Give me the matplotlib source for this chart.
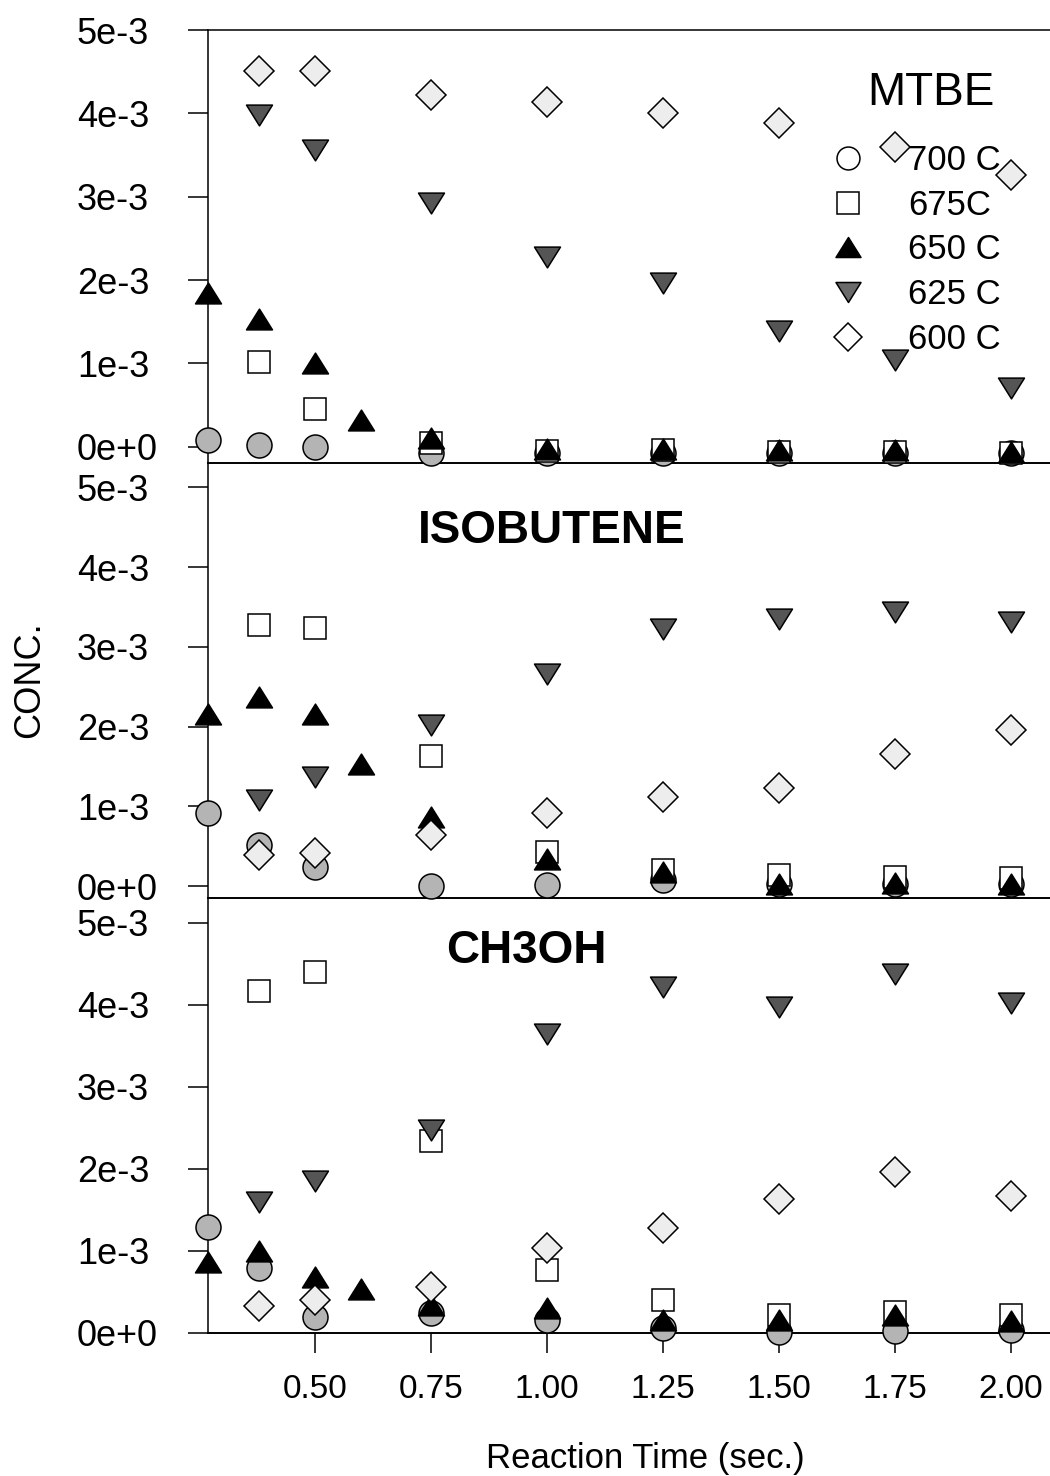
import numpy as np
import matplotlib
matplotlib.use("Agg")
import matplotlib.pyplot as plt
from matplotlib.path import Path
from matplotlib.lines import Line2D

plt.rcParams['font.family'] = ['Liberation Sans', 'DejaVu Sans']

# ---- data (concentrations in units of 1e-3) ----
temp_labels = ['700 C', '675C', '650 C', '625 C', '600 C']

t_700 = [0.27, 0.38, 0.50, 0.75, 1.00, 1.25, 1.50, 1.75, 2.00]
t_675 = [0.38, 0.50, 0.75, 1.00, 1.25, 1.50, 1.75, 2.00]
t_650 = [0.27, 0.38, 0.50, 0.60, 0.75, 1.00, 1.25, 1.50, 1.75, 2.00]
t_625 = [0.38, 0.50, 0.75, 1.00, 1.25, 1.50, 1.75, 2.00]
t_600 = [0.38, 0.50, 0.75, 1.00, 1.25, 1.50, 1.75, 2.00]

mtbe_700 = [0.08, 0.02, 0.00, -0.08, -0.08, -0.08, -0.08, -0.08, -0.08]
mtbe_675 = [1.02, 0.45, 0.04, -0.05, -0.04, -0.06, -0.06, -0.08]
mtbe_650 = [1.84, 1.53, 1.01, 0.32, 0.10, -0.03, -0.03, -0.04, -0.04, -0.06]
mtbe_625 = [3.98, 3.56, 2.92, 2.28, 1.97, 1.39, 1.04, 0.70]
mtbe_600 = [4.51, 4.51, 4.22, 4.14, 4.01, 3.89, 3.60, 3.26]

iso_700 = [0.92, 0.51, 0.24, 0.00, 0.01, 0.08, 0.03, 0.02, 0.02]
iso_675 = [3.27, 3.24, 1.63, 0.43, 0.20, 0.14, 0.11, 0.10]
iso_650 = [2.16, 2.37, 2.16, 1.53, 0.87, 0.34, 0.17, 0.03, 0.04, 0.03]
iso_625 = [1.08, 1.37, 2.02, 2.66, 3.22, 3.35, 3.44, 3.31]
iso_600 = [0.39, 0.41, 0.64, 0.92, 1.12, 1.23, 1.66, 1.96]

meoh_700 = [1.29, 0.79, 0.20, 0.24, 0.16, 0.06, 0.01, 0.02, 0.04]
meoh_675 = [4.17, 4.40, 2.34, 0.77, 0.40, 0.22, 0.26, 0.22]
meoh_650 = [0.86, 1.00, 0.68, 0.54, 0.34, 0.30, 0.16, 0.16, 0.22, 0.15]
meoh_625 = [1.60, 1.85, 2.47, 3.64, 4.21, 3.97, 4.37, 4.02]
meoh_600 = [0.33, 0.40, 0.56, 1.03, 1.28, 1.63, 1.96, 1.67]

species = ['MTBE', 'ISOBUTENE', 'CH3OH']
x_ticks = [0.50, 0.75, 1.00, 1.25, 1.50, 1.75, 2.00]
x_tick_labels = ['0.50', '0.75', '1.00', '1.25', '1.50', '1.75', '2.00']
y_ticks = [0, 1, 2, 3, 4, 5]
y_tick_labels = ['0e+0', '1e-3', '2e-3', '3e-3', '4e-3', '5e-3']

# ---- marker shapes ----
tri_up = Path([(-1, -0.8), (1, -0.8), (0, 0.8), (-1, -0.8)],
              [Path.MOVETO, Path.LINETO, Path.LINETO, Path.CLOSEPOLY])
tri_dn = Path([(-1, 0.8), (1, 0.8), (0, -0.8), (-1, 0.8)],
              [Path.MOVETO, Path.LINETO, Path.LINETO, Path.CLOSEPOLY])

styles = [
    dict(marker='o', ms=18.0, mfc='#b4b4b4'),
    dict(marker='s', ms=16.5, mfc='white'),
    dict(marker=tri_up, ms=18.7, mfc='black'),
    dict(marker=tri_dn, ms=18.7, mfc='#555555'),
    dict(marker='D', ms=15.5, mfc='#ededed'),
]
legend_styles = [
    dict(marker='o', ms=16.5, mfc='white'),
    dict(marker='s', ms=16.0, mfc='white'),
    dict(marker=tri_up, ms=18.0, mfc='black'),
    dict(marker=tri_dn, ms=18.0, mfc='#6a6a6a'),
    dict(marker='D', ms=14.3, mfc='white'),
]

times = [t_700, t_675, t_650, t_625, t_600]
panels = [
    [mtbe_700, mtbe_675, mtbe_650, mtbe_625, mtbe_600],
    [iso_700, iso_675, iso_650, iso_625, iso_600],
    [meoh_700, meoh_675, meoh_650, meoh_625, meoh_600],
]

W, H = 1050, 1476
fig = plt.figure(figsize=(W / 100, H / 100), dpi=100)

left_px = 208
panel_px = [(30, 463), (463, 898), (898, 1333)]
ylims = [(-0.195, 5.0), (-0.15, 5.307), (0.0, 5.30)]
title_pos = [(0.859, 0.827, 'normal'), (0.4086, 0.816, 'bold'), (0.3777, 0.8506, 'bold')]

axes = []
for i, (top, bot) in enumerate(panel_px):
    ax = fig.add_axes([left_px / W, 1 - bot / H, 1 - left_px / W, (bot - top) / H])
    axes.append(ax)
    for t, y, st in zip(times, panels[i], styles):
        ax.plot(t, y, ls='none', mec='black', mew=1.1, clip_on=False, zorder=3, **st)
    ax.set_xlim(0.27, 2.085)
    ax.set_ylim(*ylims[i])
    ax.set_yticks(y_ticks)
    ax.set_yticklabels(y_tick_labels)
    ax.tick_params(axis='y', direction='out', length=14.5, width=1.1,
                   labelsize=26, pad=80)
    for lbl in ax.get_yticklabels():
        lbl.set_horizontalalignment('left')
    ax.spines['right'].set_visible(False)
    ax.spines['top'].set_visible(i == 0)
    for s in ('left', 'top'):
        ax.spines[s].set_linewidth(1.1)
    ax.spines['bottom'].set_linewidth(1.4)
    ax.set_facecolor('none')
    tx, ty, tw = title_pos[i]
    ax.text(tx, ty, species[i], transform=ax.transAxes, ha='center',
            va='baseline', fontsize=33, fontweight=tw)
    if i < 2:
        ax.tick_params(axis='x', bottom=False, labelbottom=False)
    else:
        ax.set_xticks(x_ticks)
        ax.set_xticklabels(x_tick_labels)
        ax.tick_params(axis='x', direction='out', length=14.5, width=1.1,
                       labelsize=24, pad=15)

handles = [Line2D([], [], ls='none', mec='black', mew=1.1, **st) for st in legend_styles]
axes[0].legend(handles, temp_labels, loc='center left', bbox_to_anchor=(0.7394, 0.492),
               frameon=False, borderpad=0, borderaxespad=0, handlelength=1.0,
               handletextpad=1.23, labelspacing=0.34, fontsize=25)

fig.text(30 / W, 1 - 680 / H, 'CONC.', rotation=90, ha='center', va='center', fontsize=26)
fig.text(645 / W, (H - 1468) / H, 'Reaction Time (sec.)', ha='center', va='baseline', fontsize=25)

fig.savefig('out.png', dpi=100, facecolor='white')
